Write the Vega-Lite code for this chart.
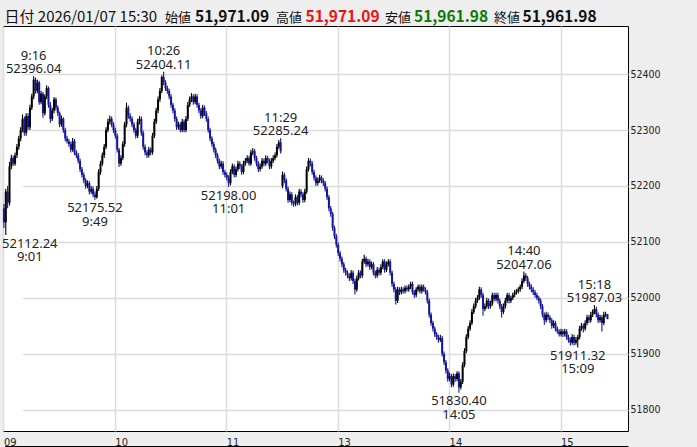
{
"$schema": "https://vega.github.io/schema/vega-lite/v6.json",
"width": 625, "height": 405,
"autosize": "none",
"padding": {"left": 3, "top": 26, "right": 69, "bottom": 16},
"background": "#eeeeee",
"view": {"fill": "white", "stroke": "black", "strokeWidth": 1},
"datasets": {
"hdr": [{"date": "日付 2026/01/07 15:30", "o": "51,971.09", "h": "51,971.09", "l": "51,961.98", "c": "51,961.98"}],
"notes": [
{"t":"09:16","v":52396.04,"k":"hi","lab":"9:16\n52396.04"},
{"t":"10:26","v":52404.11,"k":"hi","lab":"10:26\n52404.11"},
{"t":"11:29","v":52285.24,"k":"hi","lab":"11:29\n52285.24"},
{"t":"14:40","v":52047.06,"k":"hi","lab":"14:40\n52047.06"},
{"t":"15:18","v":51987.03,"k":"hi","lab":"15:18\n51987.03"},
{"t":"09:01","v":52112.24,"k":"first","lab":"52112.24\n9:01"},
{"t":"09:49","v":52175.52,"k":"lo","lab":"52175.52\n9:49"},
{"t":"11:01","v":52198.00,"k":"lo","lab":"52198.00\n11:01"},
{"t":"14:05","v":51830.40,"k":"lo","lab":"51830.40\n14:05"},
{"t":"15:09","v":51911.32,"k":"lo","lab":"51911.32\n15:09"}
],
"candles": [
{"t":"09:00","o":52160,"h":52168,"l":52125,"c":52135},
{"t":"09:01","o":52135,"h":52195,"l":52112.24,"c":52190},
{"t":"09:02","o":52190,"h":52200,"l":52160,"c":52170},
{"t":"09:03","o":52170,"h":52243,"l":52165,"c":52235},
{"t":"09:04","o":52235,"h":52256,"l":52230,"c":52250},
{"t":"09:05","o":52250,"h":52254,"l":52236,"c":52240},
{"t":"09:06","o":52240,"h":52260,"l":52236,"c":52255},
{"t":"09:07","o":52255,"h":52275,"l":52250,"c":52270},
{"t":"09:08","o":52270,"h":52290,"l":52265,"c":52285},
{"t":"09:09","o":52285,"h":52305,"l":52280,"c":52300},
{"t":"09:10","o":52300,"h":52328,"l":52296,"c":52320},
{"t":"09:11","o":52320,"h":52324,"l":52290,"c":52295},
{"t":"09:12","o":52295,"h":52330,"l":52290,"c":52325},
{"t":"09:13","o":52325,"h":52330,"l":52300,"c":52305},
{"t":"09:14","o":52305,"h":52345,"l":52300,"c":52340},
{"t":"09:15","o":52340,"h":52365,"l":52336,"c":52360},
{"t":"09:16","o":52360,"h":52396.04,"l":52355,"c":52390},
{"t":"09:17","o":52390,"h":52394,"l":52365,"c":52370},
{"t":"09:18","o":52370,"h":52390,"l":52366,"c":52385},
{"t":"09:19","o":52385,"h":52388,"l":52345,"c":52350},
{"t":"09:20","o":52350,"h":52370,"l":52346,"c":52365},
{"t":"09:21","o":52365,"h":52368,"l":52322,"c":52330},
{"t":"09:22","o":52330,"h":52364,"l":52326,"c":52360},
{"t":"09:23","o":52360,"h":52380,"l":52355,"c":52375},
{"t":"09:24","o":52375,"h":52378,"l":52340,"c":52345},
{"t":"09:25","o":52345,"h":52350,"l":52313,"c":52320},
{"t":"09:26","o":52320,"h":52340,"l":52316,"c":52335},
{"t":"09:27","o":52335,"h":52359,"l":52330,"c":52355},
{"t":"09:28","o":52355,"h":52358,"l":52335,"c":52340},
{"t":"09:29","o":52340,"h":52344,"l":52325,"c":52330},
{"t":"09:30","o":52330,"h":52333,"l":52305,"c":52310},
{"t":"09:31","o":52310,"h":52326,"l":52306,"c":52320},
{"t":"09:32","o":52320,"h":52323,"l":52295,"c":52300},
{"t":"09:33","o":52300,"h":52304,"l":52280,"c":52285},
{"t":"09:34","o":52285,"h":52290,"l":52276,"c":52280},
{"t":"09:35","o":52280,"h":52284,"l":52270,"c":52275},
{"t":"09:36","o":52275,"h":52279,"l":52260,"c":52265},
{"t":"09:37","o":52265,"h":52286,"l":52261,"c":52280},
{"t":"09:38","o":52280,"h":52284,"l":52255,"c":52260},
{"t":"09:39","o":52260,"h":52264,"l":52250,"c":52255},
{"t":"09:40","o":52255,"h":52259,"l":52240,"c":52245},
{"t":"09:41","o":52245,"h":52249,"l":52225,"c":52230},
{"t":"09:42","o":52230,"h":52234,"l":52215,"c":52220},
{"t":"09:43","o":52220,"h":52224,"l":52205,"c":52210},
{"t":"09:44","o":52210,"h":52214,"l":52195,"c":52200},
{"t":"09:45","o":52200,"h":52210,"l":52196,"c":52205},
{"t":"09:46","o":52205,"h":52209,"l":52185,"c":52190},
{"t":"09:47","o":52190,"h":52200,"l":52186,"c":52195},
{"t":"09:48","o":52195,"h":52199,"l":52180,"c":52185},
{"t":"09:49","o":52185,"h":52190,"l":52175.52,"c":52180},
{"t":"09:50","o":52180,"h":52200,"l":52177,"c":52195},
{"t":"09:51","o":52195,"h":52230,"l":52191,"c":52225},
{"t":"09:52","o":52225,"h":52245,"l":52220,"c":52240},
{"t":"09:53","o":52240,"h":52260,"l":52236,"c":52255},
{"t":"09:54","o":52255,"h":52275,"l":52250,"c":52270},
{"t":"09:55","o":52270,"h":52305,"l":52266,"c":52300},
{"t":"09:56","o":52300,"h":52320,"l":52296,"c":52315},
{"t":"09:57","o":52315,"h":52326,"l":52310,"c":52320},
{"t":"09:58","o":52320,"h":52324,"l":52305,"c":52310},
{"t":"09:59","o":52310,"h":52314,"l":52295,"c":52300},
{"t":"10:00","o":52300,"h":52304,"l":52285,"c":52290},
{"t":"10:01","o":52290,"h":52294,"l":52260,"c":52265},
{"t":"10:02","o":52265,"h":52268,"l":52234,"c":52240},
{"t":"10:03","o":52240,"h":52255,"l":52236,"c":52250},
{"t":"10:04","o":52250,"h":52280,"l":52246,"c":52275},
{"t":"10:05","o":52275,"h":52315,"l":52270,"c":52310},
{"t":"10:06","o":52310,"h":52349,"l":52305,"c":52340},
{"t":"10:07","o":52340,"h":52344,"l":52320,"c":52325},
{"t":"10:08","o":52325,"h":52330,"l":52315,"c":52320},
{"t":"10:09","o":52320,"h":52324,"l":52305,"c":52310},
{"t":"10:10","o":52310,"h":52314,"l":52295,"c":52300},
{"t":"10:11","o":52300,"h":52304,"l":52285,"c":52290},
{"t":"10:12","o":52290,"h":52320,"l":52286,"c":52315},
{"t":"10:13","o":52315,"h":52325,"l":52310,"c":52320},
{"t":"10:14","o":52320,"h":52324,"l":52290,"c":52295},
{"t":"10:15","o":52295,"h":52299,"l":52265,"c":52270},
{"t":"10:16","o":52270,"h":52274,"l":52255,"c":52260},
{"t":"10:17","o":52260,"h":52264,"l":52250,"c":52255},
{"t":"10:18","o":52255,"h":52270,"l":52251,"c":52265},
{"t":"10:19","o":52265,"h":52269,"l":52255,"c":52260},
{"t":"10:20","o":52260,"h":52295,"l":52256,"c":52290},
{"t":"10:21","o":52290,"h":52320,"l":52286,"c":52315},
{"t":"10:22","o":52315,"h":52340,"l":52311,"c":52335},
{"t":"10:23","o":52335,"h":52360,"l":52330,"c":52355},
{"t":"10:24","o":52355,"h":52375,"l":52350,"c":52370},
{"t":"10:25","o":52370,"h":52398,"l":52366,"c":52395},
{"t":"10:26","o":52395,"h":52404.11,"l":52380,"c":52385},
{"t":"10:27","o":52385,"h":52389,"l":52370,"c":52375},
{"t":"10:28","o":52375,"h":52379,"l":52365,"c":52370},
{"t":"10:29","o":52370,"h":52374,"l":52355,"c":52360},
{"t":"10:30","o":52360,"h":52364,"l":52340,"c":52345},
{"t":"10:31","o":52345,"h":52349,"l":52330,"c":52335},
{"t":"10:32","o":52335,"h":52339,"l":52315,"c":52320},
{"t":"10:33","o":52320,"h":52324,"l":52300,"c":52305},
{"t":"10:34","o":52305,"h":52315,"l":52301,"c":52310},
{"t":"10:35","o":52310,"h":52314,"l":52296,"c":52300},
{"t":"10:36","o":52300,"h":52320,"l":52296,"c":52315},
{"t":"10:37","o":52315,"h":52319,"l":52296,"c":52300},
{"t":"10:38","o":52300,"h":52325,"l":52296,"c":52320},
{"t":"10:39","o":52320,"h":52350,"l":52316,"c":52345},
{"t":"10:40","o":52345,"h":52360,"l":52341,"c":52355},
{"t":"10:41","o":52355,"h":52366,"l":52350,"c":52360},
{"t":"10:42","o":52360,"h":52364,"l":52345,"c":52350},
{"t":"10:43","o":52350,"h":52365,"l":52346,"c":52360},
{"t":"10:44","o":52360,"h":52364,"l":52340,"c":52345},
{"t":"10:45","o":52345,"h":52349,"l":52330,"c":52335},
{"t":"10:46","o":52335,"h":52339,"l":52320,"c":52325},
{"t":"10:47","o":52325,"h":52345,"l":52321,"c":52340},
{"t":"10:48","o":52340,"h":52344,"l":52325,"c":52330},
{"t":"10:49","o":52330,"h":52334,"l":52315,"c":52320},
{"t":"10:50","o":52320,"h":52324,"l":52295,"c":52300},
{"t":"10:51","o":52300,"h":52304,"l":52280,"c":52285},
{"t":"10:52","o":52285,"h":52289,"l":52270,"c":52275},
{"t":"10:53","o":52275,"h":52279,"l":52260,"c":52265},
{"t":"10:54","o":52265,"h":52269,"l":52250,"c":52255},
{"t":"10:55","o":52255,"h":52259,"l":52240,"c":52245},
{"t":"10:56","o":52245,"h":52249,"l":52230,"c":52235},
{"t":"10:57","o":52235,"h":52245,"l":52231,"c":52240},
{"t":"10:58","o":52240,"h":52244,"l":52220,"c":52225},
{"t":"10:59","o":52225,"h":52229,"l":52215,"c":52220},
{"t":"11:00","o":52220,"h":52224,"l":52210,"c":52215},
{"t":"11:01","o":52215,"h":52219,"l":52198.00,"c":52205},
{"t":"11:02","o":52205,"h":52230,"l":52201,"c":52225},
{"t":"11:03","o":52225,"h":52240,"l":52221,"c":52235},
{"t":"11:04","o":52235,"h":52239,"l":52215,"c":52220},
{"t":"11:05","o":52220,"h":52235,"l":52216,"c":52230},
{"t":"11:06","o":52230,"h":52245,"l":52226,"c":52240},
{"t":"11:07","o":52240,"h":52244,"l":52230,"c":52235},
{"t":"11:08","o":52235,"h":52239,"l":52220,"c":52225},
{"t":"11:09","o":52225,"h":52245,"l":52221,"c":52240},
{"t":"11:10","o":52240,"h":52250,"l":52236,"c":52245},
{"t":"11:11","o":52245,"h":52255,"l":52241,"c":52250},
{"t":"11:12","o":52250,"h":52254,"l":52236,"c":52240},
{"t":"11:13","o":52240,"h":52265,"l":52236,"c":52260},
{"t":"11:14","o":52260,"h":52268,"l":52255,"c":52262},
{"t":"11:15","o":52262,"h":52266,"l":52245,"c":52250},
{"t":"11:16","o":52250,"h":52254,"l":52235,"c":52240},
{"t":"11:17","o":52240,"h":52244,"l":52225,"c":52230},
{"t":"11:18","o":52230,"h":52240,"l":52226,"c":52235},
{"t":"11:19","o":52235,"h":52250,"l":52231,"c":52245},
{"t":"11:20","o":52245,"h":52249,"l":52235,"c":52240},
{"t":"11:21","o":52240,"h":52255,"l":52236,"c":52250},
{"t":"11:22","o":52250,"h":52254,"l":52240,"c":52245},
{"t":"11:23","o":52245,"h":52249,"l":52230,"c":52235},
{"t":"11:24","o":52235,"h":52250,"l":52231,"c":52245},
{"t":"11:25","o":52245,"h":52255,"l":52241,"c":52250},
{"t":"11:26","o":52250,"h":52260,"l":52246,"c":52255},
{"t":"11:27","o":52255,"h":52275,"l":52251,"c":52270},
{"t":"11:28","o":52270,"h":52282,"l":52266,"c":52278},
{"t":"11:29","o":52278,"h":52285.24,"l":52258,"c":52262},
{"t":"12:30","o":52200,"h":52226,"l":52196,"c":52220},
{"t":"12:31","o":52220,"h":52224,"l":52205,"c":52210},
{"t":"12:32","o":52210,"h":52214,"l":52190,"c":52195},
{"t":"12:33","o":52195,"h":52199,"l":52170,"c":52175},
{"t":"12:34","o":52175,"h":52190,"l":52171,"c":52185},
{"t":"12:35","o":52185,"h":52189,"l":52165,"c":52170},
{"t":"12:36","o":52170,"h":52174,"l":52163,"c":52168},
{"t":"12:37","o":52168,"h":52185,"l":52164,"c":52180},
{"t":"12:38","o":52180,"h":52184,"l":52165,"c":52170},
{"t":"12:39","o":52170,"h":52195,"l":52166,"c":52190},
{"t":"12:40","o":52190,"h":52194,"l":52180,"c":52185},
{"t":"12:41","o":52185,"h":52189,"l":52170,"c":52175},
{"t":"12:42","o":52175,"h":52195,"l":52171,"c":52190},
{"t":"12:43","o":52190,"h":52235,"l":52186,"c":52230},
{"t":"12:44","o":52230,"h":52250,"l":52226,"c":52245},
{"t":"12:45","o":52245,"h":52249,"l":52235,"c":52240},
{"t":"12:46","o":52240,"h":52244,"l":52220,"c":52225},
{"t":"12:47","o":52225,"h":52229,"l":52210,"c":52215},
{"t":"12:48","o":52215,"h":52219,"l":52200,"c":52205},
{"t":"12:49","o":52205,"h":52215,"l":52201,"c":52210},
{"t":"12:50","o":52210,"h":52220,"l":52206,"c":52215},
{"t":"12:51","o":52215,"h":52219,"l":52205,"c":52210},
{"t":"12:52","o":52210,"h":52214,"l":52200,"c":52205},
{"t":"12:53","o":52205,"h":52209,"l":52190,"c":52195},
{"t":"12:54","o":52195,"h":52199,"l":52175,"c":52180},
{"t":"12:55","o":52180,"h":52184,"l":52155,"c":52160},
{"t":"12:56","o":52160,"h":52164,"l":52145,"c":52150},
{"t":"12:57","o":52150,"h":52154,"l":52120,"c":52125},
{"t":"12:58","o":52125,"h":52129,"l":52105,"c":52110},
{"t":"12:59","o":52110,"h":52114,"l":52090,"c":52095},
{"t":"13:00","o":52095,"h":52099,"l":52075,"c":52080},
{"t":"13:01","o":52080,"h":52084,"l":52065,"c":52070},
{"t":"13:02","o":52070,"h":52074,"l":52055,"c":52060},
{"t":"13:03","o":52060,"h":52064,"l":52045,"c":52050},
{"t":"13:04","o":52050,"h":52054,"l":52040,"c":52045},
{"t":"13:05","o":52045,"h":52049,"l":52035,"c":52040},
{"t":"13:06","o":52040,"h":52044,"l":52030,"c":52035},
{"t":"13:07","o":52035,"h":52050,"l":52031,"c":52045},
{"t":"13:08","o":52045,"h":52049,"l":52025,"c":52030},
{"t":"13:09","o":52030,"h":52034,"l":52006,"c":52015},
{"t":"13:10","o":52015,"h":52040,"l":52011,"c":52035},
{"t":"13:11","o":52035,"h":52050,"l":52031,"c":52045},
{"t":"13:12","o":52045,"h":52049,"l":52035,"c":52040},
{"t":"13:13","o":52040,"h":52070,"l":52036,"c":52065},
{"t":"13:14","o":52065,"h":52077,"l":52061,"c":52070},
{"t":"13:15","o":52070,"h":52074,"l":52055,"c":52060},
{"t":"13:16","o":52060,"h":52070,"l":52056,"c":52065},
{"t":"13:17","o":52065,"h":52069,"l":52050,"c":52055},
{"t":"13:18","o":52055,"h":52065,"l":52051,"c":52060},
{"t":"13:19","o":52060,"h":52064,"l":52040,"c":52045},
{"t":"13:20","o":52045,"h":52049,"l":52035,"c":52040},
{"t":"13:21","o":52040,"h":52055,"l":52036,"c":52050},
{"t":"13:22","o":52050,"h":52054,"l":52040,"c":52045},
{"t":"13:23","o":52045,"h":52060,"l":52041,"c":52055},
{"t":"13:24","o":52055,"h":52069,"l":52051,"c":52065},
{"t":"13:25","o":52065,"h":52069,"l":52045,"c":52050},
{"t":"13:26","o":52050,"h":52065,"l":52046,"c":52060},
{"t":"13:27","o":52060,"h":52069,"l":52056,"c":52065},
{"t":"13:28","o":52065,"h":52069,"l":52040,"c":52045},
{"t":"13:29","o":52045,"h":52049,"l":52020,"c":52025},
{"t":"13:30","o":52025,"h":52029,"l":52010,"c":52015},
{"t":"13:31","o":52015,"h":52019,"l":51988,"c":51995},
{"t":"13:32","o":51995,"h":52020,"l":51991,"c":52015},
{"t":"13:33","o":52015,"h":52019,"l":52005,"c":52010},
{"t":"13:34","o":52010,"h":52020,"l":52006,"c":52015},
{"t":"13:35","o":52015,"h":52019,"l":52008,"c":52012},
{"t":"13:36","o":52012,"h":52022,"l":52008,"c":52018},
{"t":"13:37","o":52018,"h":52022,"l":52011,"c":52015},
{"t":"13:38","o":52015,"h":52024,"l":52011,"c":52020},
{"t":"13:39","o":52020,"h":52029,"l":52016,"c":52025},
{"t":"13:40","o":52025,"h":52029,"l":52006,"c":52010},
{"t":"13:41","o":52010,"h":52014,"l":52000,"c":52005},
{"t":"13:42","o":52005,"h":52019,"l":52001,"c":52015},
{"t":"13:43","o":52015,"h":52024,"l":52011,"c":52020},
{"t":"13:44","o":52020,"h":52024,"l":52008,"c":52012},
{"t":"13:45","o":52012,"h":52024,"l":52008,"c":52020},
{"t":"13:46","o":52020,"h":52024,"l":52011,"c":52015},
{"t":"13:47","o":52015,"h":52019,"l":52006,"c":52010},
{"t":"13:48","o":52010,"h":52014,"l":51990,"c":51995},
{"t":"13:49","o":51995,"h":51999,"l":51965,"c":51970},
{"t":"13:50","o":51970,"h":51974,"l":51950,"c":51955},
{"t":"13:51","o":51955,"h":51959,"l":51940,"c":51945},
{"t":"13:52","o":51945,"h":51949,"l":51930,"c":51935},
{"t":"13:53","o":51935,"h":51939,"l":51925,"c":51930},
{"t":"13:54","o":51930,"h":51934,"l":51920,"c":51925},
{"t":"13:55","o":51925,"h":51934,"l":51921,"c":51928},
{"t":"13:56","o":51928,"h":51932,"l":51895,"c":51900},
{"t":"13:57","o":51900,"h":51904,"l":51880,"c":51885},
{"t":"13:58","o":51885,"h":51889,"l":51865,"c":51870},
{"t":"13:59","o":51870,"h":51874,"l":51850,"c":51855},
{"t":"14:00","o":51855,"h":51866,"l":51851,"c":51860},
{"t":"14:01","o":51860,"h":51864,"l":51840,"c":51845},
{"t":"14:02","o":51845,"h":51865,"l":51841,"c":51860},
{"t":"14:03","o":51860,"h":51864,"l":51850,"c":51855},
{"t":"14:04","o":51855,"h":51869,"l":51851,"c":51865},
{"t":"14:05","o":51865,"h":51869,"l":51830.40,"c":51840},
{"t":"14:06","o":51840,"h":51855,"l":51836,"c":51850},
{"t":"14:07","o":51850,"h":51885,"l":51846,"c":51880},
{"t":"14:08","o":51880,"h":51910,"l":51876,"c":51905},
{"t":"14:09","o":51905,"h":51935,"l":51901,"c":51930},
{"t":"14:10","o":51930,"h":51950,"l":51926,"c":51945},
{"t":"14:11","o":51945,"h":51960,"l":51941,"c":51955},
{"t":"14:12","o":51955,"h":51980,"l":51951,"c":51975},
{"t":"14:13","o":51975,"h":51990,"l":51971,"c":51985},
{"t":"14:14","o":51985,"h":52000,"l":51981,"c":51995},
{"t":"14:15","o":51995,"h":52005,"l":51991,"c":52000},
{"t":"14:16","o":52000,"h":52020,"l":51996,"c":52015},
{"t":"14:17","o":52015,"h":52019,"l":52000,"c":52005},
{"t":"14:18","o":52005,"h":52009,"l":51968,"c":51980},
{"t":"14:19","o":51980,"h":51990,"l":51976,"c":51985},
{"t":"14:20","o":51985,"h":52000,"l":51981,"c":51995},
{"t":"14:21","o":51995,"h":51999,"l":51980,"c":51985},
{"t":"14:22","o":51985,"h":51995,"l":51981,"c":51990},
{"t":"14:23","o":51990,"h":52009,"l":51986,"c":52005},
{"t":"14:24","o":52005,"h":52009,"l":51994,"c":51998},
{"t":"14:25","o":51998,"h":52009,"l":51994,"c":52005},
{"t":"14:26","o":52005,"h":52009,"l":51990,"c":51995},
{"t":"14:27","o":51995,"h":51999,"l":51980,"c":51985},
{"t":"14:28","o":51985,"h":51989,"l":51965,"c":51975},
{"t":"14:29","o":51975,"h":51990,"l":51971,"c":51985},
{"t":"14:30","o":51985,"h":52000,"l":51981,"c":51995},
{"t":"14:31","o":51995,"h":52009,"l":51991,"c":52005},
{"t":"14:32","o":52005,"h":52009,"l":51990,"c":51995},
{"t":"14:33","o":51995,"h":52004,"l":51991,"c":52000},
{"t":"14:34","o":52000,"h":52009,"l":51996,"c":52005},
{"t":"14:35","o":52005,"h":52014,"l":52001,"c":52010},
{"t":"14:36","o":52010,"h":52016,"l":52006,"c":52012},
{"t":"14:37","o":52012,"h":52019,"l":52008,"c":52015},
{"t":"14:38","o":52015,"h":52024,"l":52011,"c":52020},
{"t":"14:39","o":52020,"h":52035,"l":52016,"c":52030},
{"t":"14:40","o":52030,"h":52047.06,"l":52026,"c":52040},
{"t":"14:41","o":52040,"h":52044,"l":52030,"c":52035},
{"t":"14:42","o":52035,"h":52039,"l":52020,"c":52025},
{"t":"14:43","o":52025,"h":52029,"l":52015,"c":52020},
{"t":"14:44","o":52020,"h":52024,"l":52010,"c":52015},
{"t":"14:45","o":52015,"h":52019,"l":52005,"c":52010},
{"t":"14:46","o":52010,"h":52014,"l":52000,"c":52005},
{"t":"14:47","o":52005,"h":52009,"l":51996,"c":52000},
{"t":"14:48","o":52000,"h":52004,"l":51990,"c":51995},
{"t":"14:49","o":51995,"h":51999,"l":51980,"c":51985},
{"t":"14:50","o":51985,"h":51989,"l":51965,"c":51970},
{"t":"14:51","o":51970,"h":51974,"l":51952,"c":51960},
{"t":"14:52","o":51960,"h":51975,"l":51956,"c":51970},
{"t":"14:53","o":51970,"h":51974,"l":51960,"c":51965},
{"t":"14:54","o":51965,"h":51969,"l":51955,"c":51960},
{"t":"14:55","o":51960,"h":51964,"l":51945,"c":51950},
{"t":"14:56","o":51950,"h":51960,"l":51946,"c":51955},
{"t":"14:57","o":51955,"h":51959,"l":51940,"c":51945},
{"t":"14:58","o":51945,"h":51949,"l":51936,"c":51940},
{"t":"14:59","o":51940,"h":51944,"l":51931,"c":51935},
{"t":"15:00","o":51935,"h":51945,"l":51931,"c":51940},
{"t":"15:01","o":51940,"h":51944,"l":51930,"c":51935},
{"t":"15:02","o":51935,"h":51945,"l":51931,"c":51940},
{"t":"15:03","o":51940,"h":51944,"l":51925,"c":51930},
{"t":"15:04","o":51930,"h":51934,"l":51920,"c":51925},
{"t":"15:05","o":51925,"h":51929,"l":51915,"c":51920},
{"t":"15:06","o":51920,"h":51935,"l":51916,"c":51930},
{"t":"15:07","o":51930,"h":51934,"l":51915,"c":51920},
{"t":"15:08","o":51920,"h":51930,"l":51916,"c":51925},
{"t":"15:09","o":51925,"h":51934,"l":51911.32,"c":51930},
{"t":"15:10","o":51930,"h":51950,"l":51926,"c":51945},
{"t":"15:11","o":51945,"h":51955,"l":51941,"c":51950},
{"t":"15:12","o":51950,"h":51954,"l":51938,"c":51945},
{"t":"15:13","o":51945,"h":51960,"l":51941,"c":51955},
{"t":"15:14","o":51955,"h":51970,"l":51951,"c":51965},
{"t":"15:15","o":51965,"h":51969,"l":51955,"c":51960},
{"t":"15:16","o":51960,"h":51975,"l":51956,"c":51970},
{"t":"15:17","o":51970,"h":51979,"l":51966,"c":51975},
{"t":"15:18","o":51975,"h":51987.03,"l":51971,"c":51980},
{"t":"15:19","o":51980,"h":51984,"l":51965,"c":51970},
{"t":"15:20","o":51970,"h":51974,"l":51955,"c":51960},
{"t":"15:21","o":51960,"h":51970,"l":51956,"c":51965},
{"t":"15:22","o":51965,"h":51969,"l":51940,"c":51955},
{"t":"15:23","o":51955,"h":51975,"l":51951,"c":51970},
{"t":"15:24","o":51970,"h":51975,"l":51966,"c":51971.09},
{"t":"15:30","o":51971.09,"h":51971.09,"l":51961.98,"c":51961.98}
]
},
"layer": [
{
"layer": [
{
"data": {"name": "candles"},
"mark": {"type": "rule", "strokeWidth": 1.1},
"encoding": {
"x": {"field": "t", "type": "ordinal", "sort": null,
 "scale": {"type": "band", "paddingInner": 0, "paddingOuter": 0, "range": [0, 605.4]},
 "axis": {"orient": "bottom", "values": ["09:00","10:00","11:00","13:00","14:00","15:00"],
  "labelExpr": "substring(datum.value, 0, 2)", "labelAlign": "left", "labelAngle": 0, "labelOffset": 0,
  "labelPadding": 5, "labelBaseline": "top", "ticks": false, "domain": false, "grid": true,
  "gridColor": "#dcdcdc", "gridWidth": 1.5, "bandPosition": 0.5, "title": null,
  "labelFont": "Liberation Sans Narrow, DejaVu Sans Condensed, sans-serif", "labelFontSize": 11, "labelColor": "#222222"}},
"y": {"field": "l", "type": "quantitative",
 "scale": {"domain": [51762, 52486], "nice": false, "zero": false},
 "axis": {"orient": "right", "values": [51800,51900,52000,52100,52200,52300,52400], "format": "d",
  "labelAlign": "left", "labelBaseline": "middle", "labelPadding": 2, "ticks": false, "tickSize": 0, "domain": false,
  "grid": true, "gridColor": "#dcdcdc", "gridWidth": 1.5, "title": null,
  "labelFont": "Liberation Sans Narrow, DejaVu Sans Condensed, sans-serif", "labelFontSize": 10.5, "labelColor": "#222222"}},
"y2": {"field": "h"},
"color": {"condition": {"test": "datum.c >= datum.o", "value": "#000000"}, "value": "#15159a"}
}
},
{
"data": {"name": "candles"},
"mark": {"type": "bar", "width": 2},
"encoding": {
"x": {"field": "t", "type": "ordinal", "sort": null},
"y": {"field": "o", "type": "quantitative"},
"y2": {"field": "c"},
"color": {"condition": {"test": "datum.c >= datum.o", "value": "#000000"}, "value": "#15159a"}
}
},
{
"data": {"name": "notes"},
"transform": [{"filter": "datum.k == 'hi'"}],
"mark": {"type": "text", "align": "center", "baseline": "bottom", "dy": -13.5, "lineBreak": "\n", "lineHeight": 13.5,
 "font": "Noto Sans", "fontSize": 13, "color": "#222222"},
"encoding": {
"x": {"field": "t", "type": "ordinal", "sort": null},
"y": {"field": "v", "type": "quantitative"},
"text": {"field": "lab"}
}
},
{
"data": {"name": "notes"},
"transform": [{"filter": "datum.k == 'lo'"}],
"mark": {"type": "text", "align": "center", "baseline": "top", "dy": 2.5, "lineBreak": "\n", "lineHeight": 13.5,
 "font": "Noto Sans", "fontSize": 13, "color": "#222222"},
"encoding": {
"x": {"field": "t", "type": "ordinal", "sort": null},
"y": {"field": "v", "type": "quantitative"},
"text": {"field": "lab"}
}
},
{
"data": {"name": "notes"},
"transform": [{"filter": "datum.k == 'first'"}],
"mark": {"type": "text", "align": "center", "baseline": "top", "dy": 2.5, "dx": 24, "lineBreak": "\n", "lineHeight": 13.5,
 "font": "Noto Sans", "fontSize": 13, "color": "#222222"},
"encoding": {
"x": {"field": "t", "type": "ordinal", "sort": null},
"y": {"field": "v", "type": "quantitative"},
"text": {"field": "lab"}
}
}
]
},
{
"data": {"name": "hdr"},
"mark": {"type": "text", "align": "left", "baseline": "alphabetic", "font": "Noto Sans CJK JP", "fontSize": 15, "color": "#111111"},
"encoding": {
"x": {"datum": 0, "type": "quantitative", "scale": {"domain": [0, 1], "range": [1.5, 625]},
 "axis": {"orient": "bottom", "offset": 15, "labels": false, "ticks": false, "grid": false, "domain": true,
  "domainColor": "#000000", "domainWidth": 1, "title": null}},
"y": {"value": -4.5}, "text": {"field": "date"}}
},
{
"data": {"name": "hdr"},
"mark": {"type": "text", "align": "left", "baseline": "alphabetic", "font": "Noto Sans CJK JP", "fontSize": 13, "color": "#111111"},
"encoding": {"x": {"value": 162}, "y": {"value": -4.5}, "text": {"value": "始値"}}
},
{
"data": {"name": "hdr"},
"mark": {"type": "text", "align": "left", "baseline": "alphabetic", "font": "Noto Sans CJK JP", "fontSize": 15.5, "fontWeight": "bold", "color": "#111111"},
"encoding": {"x": {"value": 192}, "y": {"value": -4.5}, "text": {"field": "o"}}
},
{
"data": {"name": "hdr"},
"mark": {"type": "text", "align": "left", "baseline": "alphabetic", "font": "Noto Sans CJK JP", "fontSize": 13, "color": "#111111"},
"encoding": {"x": {"value": 273}, "y": {"value": -4.5}, "text": {"value": "高値"}}
},
{
"data": {"name": "hdr"},
"mark": {"type": "text", "align": "left", "baseline": "alphabetic", "font": "Noto Sans CJK JP", "fontSize": 15.5, "fontWeight": "bold", "color": "#ee1111"},
"encoding": {"x": {"value": 302.5}, "y": {"value": -4.5}, "text": {"field": "h"}}
},
{
"data": {"name": "hdr"},
"mark": {"type": "text", "align": "left", "baseline": "alphabetic", "font": "Noto Sans CJK JP", "fontSize": 13, "color": "#111111"},
"encoding": {"x": {"value": 382}, "y": {"value": -4.5}, "text": {"value": "安値"}}
},
{
"data": {"name": "hdr"},
"mark": {"type": "text", "align": "left", "baseline": "alphabetic", "font": "Noto Sans CJK JP", "fontSize": 15.5, "fontWeight": "bold", "color": "#0a7a0a"},
"encoding": {"x": {"value": 411}, "y": {"value": -4.5}, "text": {"field": "l"}}
},
{
"data": {"name": "hdr"},
"mark": {"type": "text", "align": "left", "baseline": "alphabetic", "font": "Noto Sans CJK JP", "fontSize": 13, "color": "#111111"},
"encoding": {"x": {"value": 491}, "y": {"value": -4.5}, "text": {"value": "終値"}}
},
{
"data": {"name": "hdr"},
"mark": {"type": "text", "align": "left", "baseline": "alphabetic", "font": "Noto Sans CJK JP", "fontSize": 15.5, "fontWeight": "bold", "color": "#111111"},
"encoding": {"x": {"value": 519.5}, "y": {"value": -4.5}, "text": {"field": "c"}}
}
],
"resolve": {"scale": {"x": "independent"}, "axis": {"x": "independent"}}
}
